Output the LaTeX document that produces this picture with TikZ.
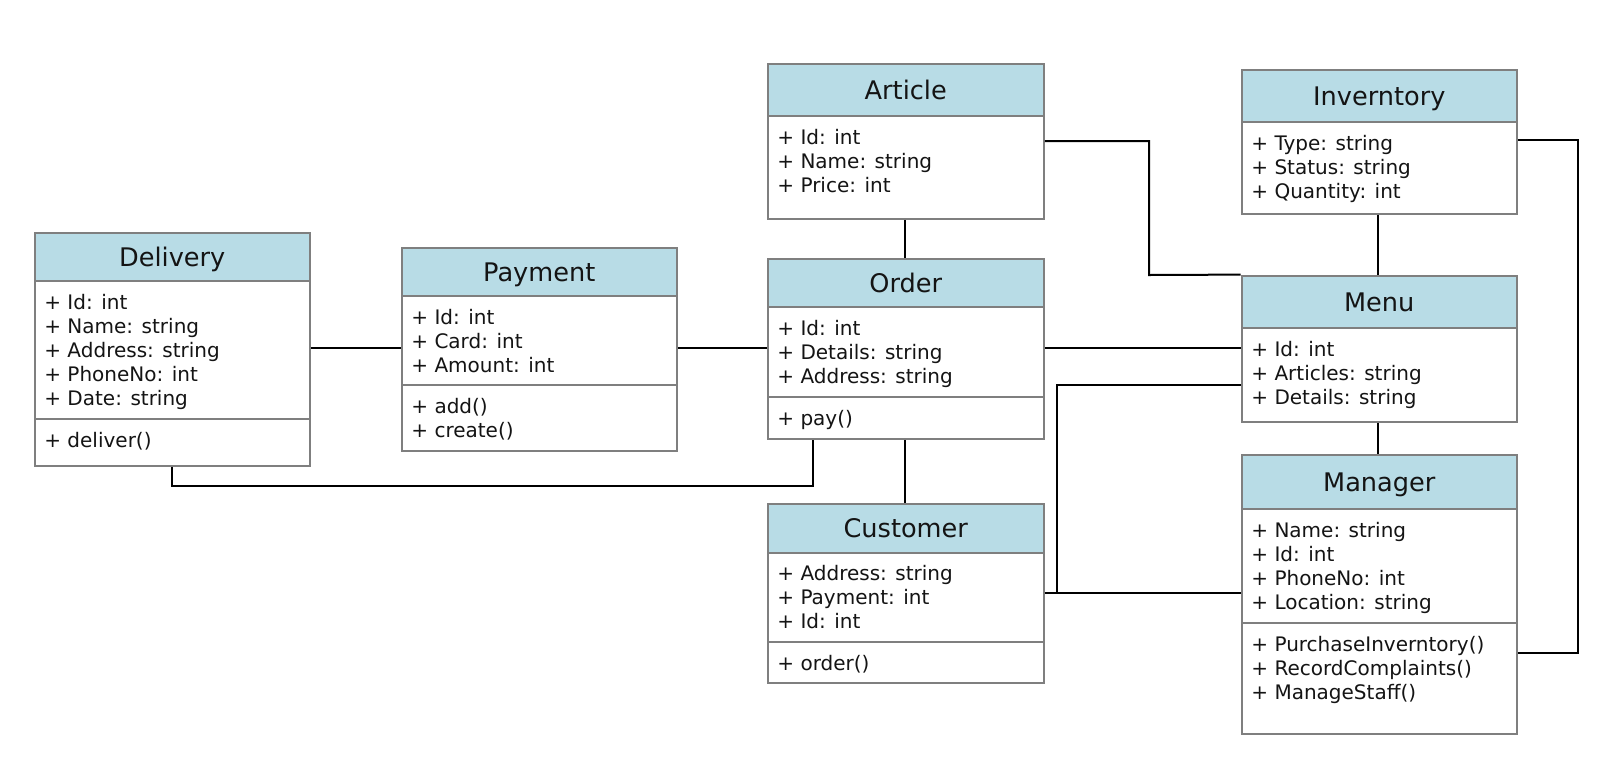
\documentclass[tikz,border=0pt]{standalone}
\usepackage{fontspec}
\setmainfont{DejaVu Sans}
\usetikzlibrary{fit}
\definecolor{hdrblue}{HTML}{B8DCE6}
\definecolor{boxgray}{HTML}{7F7F7F}
\definecolor{txt}{HTML}{141414}
\tikzset{
  hdr/.style={draw=boxgray, fill=hdrblue, line width=0.75pt, anchor=north west, inner sep=0pt,
    font=\fontsize{12.8}{15}\selectfont, text=txt, text height=9.3pt, text depth=0pt},
  body/.style={draw=boxgray, fill=white, line width=0.75pt, anchor=north west, inner sep=0pt},
  attrs/.style={anchor=north west, inner sep=0pt, align=left, text=txt,
    font=\fontsize{10}{12}\selectfont},
  whole/.style={inner sep=0pt, draw=none},
  conn/.style={draw=black, line width=1pt}
}
% #1 name, #2 x1, #3 y1, #4 x2, #5 y2  (px)
\newcommand\mkpart[5]{%
  \node[body, minimum width={(#4-#2)*0.5pt}, minimum height={(#5-#3)*0.5pt}] (#1) at (#2,#3) {};}
\newcommand\mkhdr[6]{%
  \node[hdr, minimum width={(#4-#2)*0.5pt}, minimum height={(#5-#3)*0.5pt}] (#1) at (#2,#3) {#6};}
\begin{document}
\begin{tikzpicture}[x=0.5pt, y=-0.5pt]
\useasboundingbox[fill=white] (0,0) rectangle (1600,761);

% Delivery
\mkhdr{delh}{34}{232}{309}{280}{Delivery}
\mkpart{dela}{34}{280}{309}{418}
\mkpart{delm}{34}{418}{309}{465}
\node[attrs] (delat) at (44,292) {\strut+ Id: int\\+ Name: string\\+ Address: string\\+ PhoneNo: int\\+ Date: string};
\node[attrs] (delmt) at (44,430) {\strut+ deliver()};
\node[whole, fit=(delh)(delm)] (delivery) {};

% Payment
\mkhdr{payh}{401}{247}{676}{295}{Payment}
\mkpart{paya}{401}{295}{676}{384}
\mkpart{paym}{401}{384}{676}{450}
\node[attrs] (payat) at (411,307) {\strut+ Id: int\\+ Card: int\\+ Amount: int};
\node[attrs] (paymt) at (411,396) {\strut+ add()\\+ create()};
\node[whole, fit=(payh)(paym)] (payment) {};

% Article
\mkhdr{arth}{767}{63}{1043}{115}{Article}
\mkpart{arta}{767}{115}{1043}{218}
\node[attrs] (artat) at (777,127) {\strut+ Id: int\\+ Name: string\\+ Price: int};
\node[whole, fit=(arth)(arta)] (article) {};

% Order
\mkhdr{ordh}{767}{258}{1043}{306}{Order}
\mkpart{orda}{767}{306}{1043}{396}
\mkpart{ordm}{767}{396}{1043}{438}
\node[attrs] (ordat) at (777,318) {\strut+ Id: int\\+ Details: string\\+ Address: string};
\node[attrs] (ordmt) at (777,408) {\strut+ pay()};
\node[whole, fit=(ordh)(ordm)] (order) {};

% Customer
\mkhdr{cush}{767}{503}{1043}{552}{Customer}
\mkpart{cusa}{767}{552}{1043}{641}
\mkpart{cusm}{767}{641}{1043}{682}
\node[attrs] (cusat) at (777,563) {\strut+ Address: string\\+ Payment: int\\+ Id: int};
\node[attrs] (cusmt) at (777,653) {\strut+ order()};
\node[whole, fit=(cush)(cusm)] (customer) {};

% Inventory
\mkhdr{invh}{1241}{69}{1516}{121}{Inverntory}
\mkpart{inva}{1241}{121}{1516}{213}
\node[attrs] (invat) at (1251,133) {\strut+ Type: string\\+ Status: string\\+ Quantity: int};
\node[whole, fit=(invh)(inva)] (inventory) {};

% Menu
\mkhdr{menh}{1241}{275}{1516}{327}{Menu}
\mkpart{mena}{1241}{327}{1516}{421}
\node[attrs] (menat) at (1251,339) {\strut+ Id: int\\+ Articles: string\\+ Details: string};
\node[whole, fit=(menh)(mena)] (menu) {};

% Manager
\mkhdr{manh}{1241}{454}{1516}{508}{Manager}
\mkpart{mana}{1241}{508}{1516}{622}
\mkpart{manm}{1241}{622}{1516}{733}
\node[attrs] (manat) at (1251,520) {\strut+ Name: string\\+ Id: int\\+ PhoneNo: int\\+ Location: string};
\node[attrs] (manmt) at (1251,634) {\strut+ PurchaseInverntory()\\+ RecordComplaints()\\+ ManageStaff()};
\node[whole, fit=(manh)(manm)] (manager) {};

% connectors
\coordinate (c1) at (1149,141);
\coordinate (c2) at (1149,275);
\coordinate (c3) at (1578,140);
\coordinate (c4) at (1578,653);
\coordinate (c5) at (1057,593);
\coordinate (c6) at (1057,385);
\coordinate (c7) at (172,486);
\coordinate (c8) at (813,486);

\draw[conn] (delivery.east |- 0,348) -- (payment.west |- 0,348);
\draw[conn] (payment.east |- 0,348) -- (order.west |- 0,348);
\draw[conn] (order.east |- 0,348) -- (menu.west |- 0,348);
\draw[conn] (article.south -| 905,0) -- (order.north -| 905,0);
\draw[conn] (order.south -| 905,0) -- (customer.north -| 905,0);
\draw[conn] (delivery.south -| c7) -- (c7) -- (c8) -- (order.south -| c8);
\draw[conn] (article.east |- c1) -- (c1) -- (c2) -- (menu.north west);
\draw[conn] (inventory.south -| 1378,0) -- (menu.north -| 1378,0);
\draw[conn] (menu.south -| 1378,0) -- (manager.north -| 1378,0);
\draw[conn] (inventory.east |- c3) -- (c3) -- (c4) -- (manager.east |- c4);
\draw[conn] (customer.east |- c5) -- (manager.west |- c5);
\draw[conn] (c5) -- (c6) -- (menu.west |- c6);
\end{tikzpicture}
\end{document}
